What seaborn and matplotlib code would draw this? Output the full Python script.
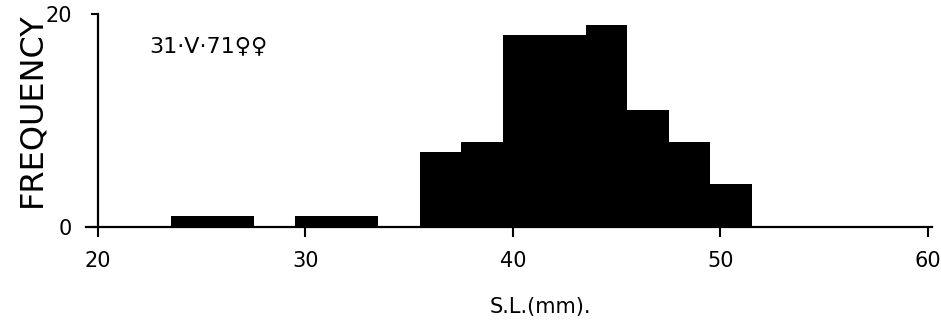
import matplotlib
matplotlib.use("Agg")
import matplotlib.pyplot as plt
import seaborn as sns
import numpy as np

# Data (bin edges in mm, counts per 2-mm bin)
bin_edges = [23.5, 25.5, 27.5, 29.5, 31.5, 33.5, 35.5, 37.5, 39.5, 41.5,
             43.5, 45.5, 47.5, 49.5, 51.5]
counts = [1, 1, 0, 1, 1, 0, 7, 8, 18, 18, 19, 11, 8, 4]
x_ticks = [20, 30, 40, 50, 60]
y_ticks = [0, 20]
x_label = "S.L.(mm)."
y_label = "FREQUENCY"
annotation = "31·V·71♀♀"

centers = [(a + b) / 2 for a, b in zip(bin_edges[:-1], bin_edges[1:])]

sns.set_style("white")
plt.rcParams['font.family'] = ['DejaVu Sans']
plt.rcParams['text.color'] = 'black'
plt.rcParams['axes.labelcolor'] = 'black'

fig = plt.figure(figsize=(9.41, 3.28), dpi=100)
ax = fig.add_axes([0.0909, 0.308, 0.8996, 0.649])

sns.histplot(x=centers, weights=counts, bins=bin_edges, color="black",
             alpha=1.0, edgecolor="black", linewidth=0, ax=ax)

ax.set_xlim(19.4, 60.2)
ax.set_ylim(0, 20)

for s in ["top", "right"]:
    ax.spines[s].set_visible(False)
ax.spines["left"].set_position(("data", 20))
ax.spines["left"].set_linewidth(1.6)
ax.spines["bottom"].set_linewidth(1.6)
ax.spines["left"].set_color("black")
ax.spines["bottom"].set_color("black")

ax.set_xticks(x_ticks)
ax.set_yticks(y_ticks)
ax.tick_params(axis="x", direction="out", length=7, width=1.5, pad=10,
               labelsize=15, bottom=True, colors="black")
ax.tick_params(axis="y", direction="out", length=5, width=1.5, pad=14,
               labelsize=15, left=True, colors="black")

ax.set_xlabel(x_label, fontsize=15, color="black")
ax.xaxis.set_label_coords(0.537, -0.33)
ax.set_ylabel(y_label, fontsize=23, color="black")
ax.yaxis.set_label_coords(-0.045, 0.55)

ax.text(0.075, 0.85, annotation, transform=ax.transAxes, fontsize=16,
        ha="left", va="center", color="black")

fig.savefig("out.png", dpi=100)
